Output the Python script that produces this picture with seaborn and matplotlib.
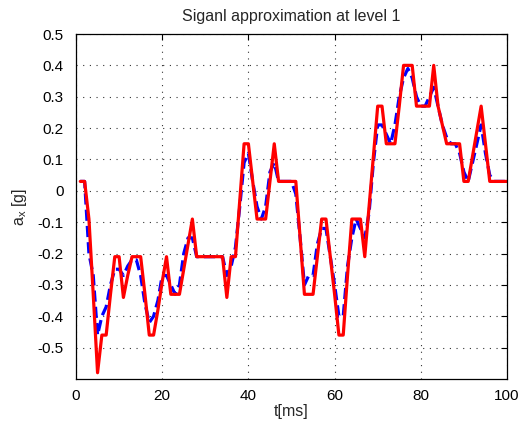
import numpy as np
import pandas as pd
import matplotlib
matplotlib.use("Agg")
import matplotlib.pyplot as plt
import seaborn as sns

t_ms = list(range(1, 101))

signal = [0.03, 0.03, -0.09, -0.33, -0.58, -0.46, -0.46, -0.33, -0.21, -0.21,
          -0.34, -0.27, -0.21, -0.21, -0.21, -0.33, -0.46, -0.46, -0.38, -0.29,
          -0.21, -0.33, -0.33, -0.33, -0.25, -0.17, -0.09, -0.21, -0.21, -0.21,
          -0.21, -0.21, -0.21, -0.21, -0.34, -0.21, -0.21, -0.03, 0.15, 0.15,
          0.03, -0.09, -0.09, -0.09, 0.03, 0.15, 0.03, 0.03, 0.03, 0.03,
          0.03, -0.15, -0.33, -0.33, -0.33, -0.21, -0.09, -0.09, -0.21, -0.33,
          -0.46, -0.46, -0.27, -0.09, -0.09, -0.09, -0.21, -0.05, 0.11, 0.27,
          0.27, 0.15, 0.15, 0.15, 0.27, 0.40, 0.40, 0.40, 0.27, 0.27,
          0.27, 0.27, 0.40, 0.27, 0.21, 0.15, 0.15, 0.15, 0.15, 0.03,
          0.03, 0.11, 0.19, 0.27, 0.15, 0.03, 0.03, 0.03, 0.03, 0.03]

approx = [0.03, 0.03, -0.20, -0.27, -0.46, -0.40, -0.37, -0.30, -0.25, -0.25,
          -0.27, -0.24, -0.22, -0.22, -0.27, -0.36, -0.42, -0.40, -0.35, -0.27,
          -0.27, -0.30, -0.33, -0.30, -0.20, -0.15, -0.15, -0.21, -0.21, -0.21,
          -0.21, -0.21, -0.21, -0.21, -0.27, -0.24, -0.18, -0.05, 0.09, 0.12,
          0.03, -0.05, -0.09, -0.05, 0.06, 0.09, 0.03, 0.03, 0.03, 0.03,
          -0.01, -0.15, -0.30, -0.27, -0.27, -0.17, -0.12, -0.12, -0.21, -0.30,
          -0.40, -0.40, -0.24, -0.15, -0.09, -0.12, -0.15, -0.07, 0.09, 0.21,
          0.21, 0.18, 0.15, 0.21, 0.30, 0.36, 0.39, 0.36, 0.30, 0.27,
          0.27, 0.30, 0.33, 0.27, 0.21, 0.17, 0.15, 0.15, 0.12, 0.06,
          0.03, 0.09, 0.15, 0.21, 0.12, 0.05, 0.03, 0.03, 0.03, 0.03]

x_ticks = [0, 20, 40, 60, 80, 100]
y_ticks = [-0.5, -0.4, -0.3, -0.2, -0.1, 0, 0.1, 0.2, 0.3, 0.4, 0.5]
y_tick_labels = ["-0.5", "-0.4", "-0.3", "-0.2", "-0.1", "0", "0.1", "0.2", "0.3", "0.4", "0.5"]

sns.set_style("white")
plt.rcParams['font.family'] = ['Liberation Sans', 'DejaVu Sans']
plt.rcParams['mathtext.fontset'] = 'custom'
plt.rcParams['mathtext.rm'] = 'Liberation Sans'

df = pd.DataFrame({"t": t_ms, "signal": signal, "approx": approx})

fig = plt.figure(figsize=(5.2, 4.24), dpi=100)
ax = fig.add_axes([76/520, 1 - 379/424, (507-76)/520, (379-34)/424])

sns.lineplot(data=df, x="t", y="approx", ax=ax, color="#0000ff", lw=2.3,
             dashes=False, linestyle=(0, (3.5, 1.6)))
sns.lineplot(data=df, x="t", y="signal", ax=ax, color="#ff0000", lw=2.3)

ax.set_xlim(0, 100)
ax.set_ylim(-0.6, 0.5)
ax.set_xticks(x_ticks)
ax.set_yticks(y_ticks)
ax.set_yticklabels(y_tick_labels)
ax.grid(True, linestyle=(0, (1, 5)), color="black", linewidth=0.8, alpha=0.8)
ax.tick_params(direction="in", length=4, width=0.8, top=True, right=True,
               labelsize=11, colors="black")
ax.tick_params(axis="y", pad=9)
ax.tick_params(axis="x", pad=7)
for s in ax.spines.values():
    s.set_color("black")
    s.set_linewidth(0.9)

ax.set_title("Siganl approximation at level 1", fontsize=11.5, pad=9)
ax.set_xlabel("t[ms]", fontsize=11.5, labelpad=1)
ax.set_ylabel(r"a$_{\mathrm{x}}$ [g]", fontsize=11.5, labelpad=6)

fig.savefig("out.png", dpi=100)
